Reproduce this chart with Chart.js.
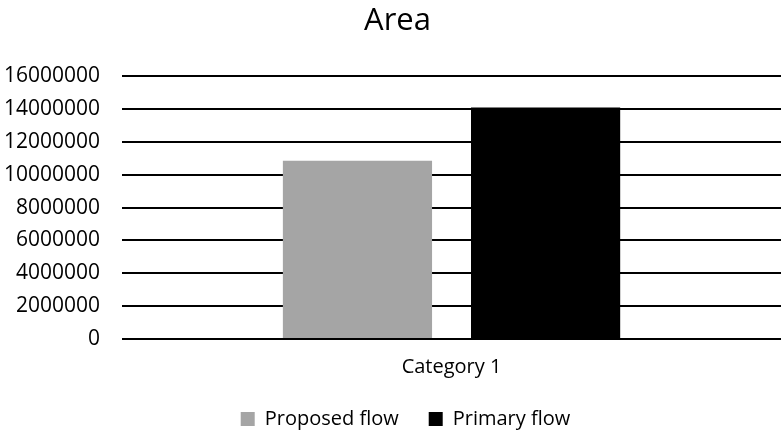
<!DOCTYPE html>
<html>
<head>
<meta charset="utf-8">
<script src="https://cdn.jsdelivr.net/npm/chart.js@4/dist/chart.umd.min.js"></script>
<style>
  html, body { margin: 0; padding: 0; background: #fff; }
  #wrap { width: 781px; height: 430px; }
</style>
</head>
<body>
<div id="wrap"><canvas id="myChart"></canvas></div>
<script>
var categories = ["Category 1"];
var seriesNames = ["Proposed flow", "Primary flow"];
var proposedFlow = [10850000];
var primaryFlow = [14100000];
var yTicks = [0, 2000000, 4000000, 6000000, 8000000, 10000000, 12000000, 14000000, 16000000];

Chart.defaults.font.family = "'Open Sans', sans-serif";
Chart.defaults.color = '#000';

// title and legend are not centred on the canvas in the original, nudge them
var nudge = {
    id: 'nudge',
    afterLayout: function (chart) {
        var t = chart.titleBlock, l = chart.legend;
        t.left += 16; t.right += 16;
        l.left += 24; l.right += 24;
        l.top -= 16; l.bottom -= 16;
    }
};

var ctx = document.getElementById('myChart').getContext('2d');

var chart = new Chart(ctx, {
    type: 'bar',
    data: {
        labels: categories,
        datasets: [
            {
                label: seriesNames[0],
                backgroundColor: '#a5a5a5',
                data: proposedFlow
            },
            {
                label: seriesNames[1],
                backgroundColor: '#000000',
                data: primaryFlow
            }
        ]
    },
    plugins: [nudge],
    options: {
        responsive: true,
        maintainAspectRatio: false,
        animation: false,
        categoryPercentage: 0.571,
        barPercentage: 0.793,
        layout: { padding: { left: -18, right: 0, top: 0, bottom: -25 } },
        plugins: {
            title: {
                display: true,
                text: 'Area',
                font: { size: 31, weight: 'normal' },
                padding: { top: 3, bottom: 36 }
            },
            legend: {
                position: 'bottom',
                labels: {
                    boxWidth: 14,
                    boxHeight: 14,
                    font: { size: 20 },
                    padding: 30
                }
            },
            tooltip: { enabled: false }
        },
        scales: {
            x: {
                grid: { display: false, drawTicks: false },
                border: { display: false },
                ticks: { font: { size: 20 }, padding: 16 }
            },
            y: {
                min: yTicks[0],
                max: yTicks[yTicks.length - 1],
                afterBuildTicks: function (axis) {
                    axis.ticks = yTicks.map(function (v) { return { value: v }; });
                },
                grid: { color: '#000', lineWidth: 2, drawTicks: false },
                border: { display: false },
                ticks: {
                    font: { size: 21 },
                    padding: 22,
                    callback: function (v) { return String(v); }
                }
            }
        }
    }
});
</script>
</body>
</html>
